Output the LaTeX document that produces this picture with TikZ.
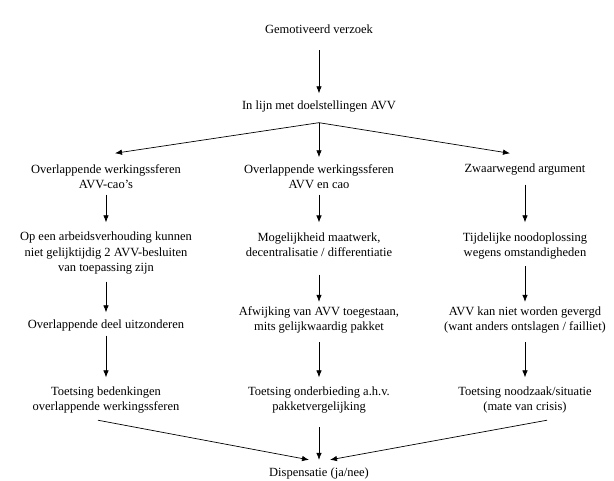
\documentclass[tikz,border=0pt]{standalone}
\usepackage{fontspec}
\setmainfont{Liberation Serif}
\usetikzlibrary{arrows.meta}
\begin{document}
\begin{tikzpicture}[x=1pt, y=-1pt, node distance=75pt,
    every node/.style={align=center, inner sep=0pt, outer sep=0pt, font=\fontsize{12.5}{15.5}\selectfont},
    arr/.style={-{Latex[length=7pt,width=5.5pt]}, line width=0.7pt}]
    \useasboundingbox (0,0) rectangle (614,481);
    \node (g) at (319,28.8) {Gemotiveerd verzoek};
    \node (l) [below of=g, node distance=78.2pt] {In lijn met doelstellingen AVV};
    \coordinate (split) at ([yshift=-10pt]l.south);
    % three columns
    \node (a1) at (106,176.5) {Overlappende werkingssferen\\AVV-cao's};
    \node (b1) [below of=l, node distance=69.5pt] {Overlappende werkingssferen\\AVV en cao};
    \node (c1) at (525,170) {Zwaarwegend argument};
    \node (a2) [below of=a1, node distance=77pt] {Op een arbeidsverhouding kunnen\\niet gelijktijdig 2 AVV-besluiten\\van toepassing zijn};
    \node (a3) [below of=a2, node distance=71.5pt] {Overlappende deel uitzonderen};
    \node (a4) [below of=a3, node distance=74.8pt] {Toetsing bedenkingen\\overlappende werkingssferen};
    \node (b2) [below of=b1, node distance=68.1pt] {Mogelijkheid maatwerk,\\decentralisatie / differentiatie};
    \node (b3) [below of=b2, node distance=75.2pt] {Afwijking van AVV toegestaan,\\mits gelijkwaardig pakket};
    \node (b4) [below of=b3, node distance=80pt] {Toetsing onderbieding a.h.v.\\pakketvergelijking};
    \node (c2) [below of=c1, node distance=75.8pt] {Tijdelijke noodoplossing\\wegens omstandigheden};
    \node (c3) [below of=c2, node distance=74pt] {AVV kan niet worden gevergd\\(want anders ontslagen / failliet)};
    \node (c4) [below of=c3, node distance=80pt] {Toetsing noodzaak/situatie\\(mate van crisis)};
    \node (d) [below of=b4, node distance=73.2pt] {Dispensatie (ja/nee)};
    % arrows
    \draw[arr, shorten <=17pt, shorten >=8pt] (g) -- (l);
    \draw[arr] (split) -- ([xshift=9pt,yshift=11pt]a1.north);
    \draw[arr, shorten >=7pt] (split) -- (b1.north);
    \draw[arr] (split) -- ([xshift=-15pt,yshift=11pt]c1.north);
    \draw[arr, shorten <=6pt, shorten >=10pt] (a1) -- (a2);
    \draw[arr, shorten <=7pt, shorten >=7pt] (a2) -- (a3);
    \draw[arr, shorten <=5pt, shorten >=9pt] (a3) -- (a4);
    \draw[arr, shorten <=6pt, shorten >=10pt] (b1) -- (b2);
    \draw[arr, shorten <=18pt, shorten >=4.5pt] (b2) -- (b3);
    \draw[arr, shorten <=9pt, shorten >=9pt] (b3) -- (b4);
    \draw[arr, shorten <=9pt, shorten >=10pt] (c1) -- (c2);
    \draw[arr, shorten <=7pt, shorten >=4.5pt] (c2) -- (c3);
    \draw[arr, shorten <=9pt, shorten >=9pt] (c3) -- (c4);
    \draw[arr] ([xshift=-8pt,yshift=-7pt]a4.south) -- ([xshift=-10pt,yshift=7.5pt]d.north);
    \draw[arr, shorten <=14pt, shorten >=7.5pt] (b4) -- (d);
    \draw[arr] ([xshift=22pt,yshift=-7pt]c4.south) -- ([xshift=11pt,yshift=7.5pt]d.north);
\end{tikzpicture}
\end{document}
